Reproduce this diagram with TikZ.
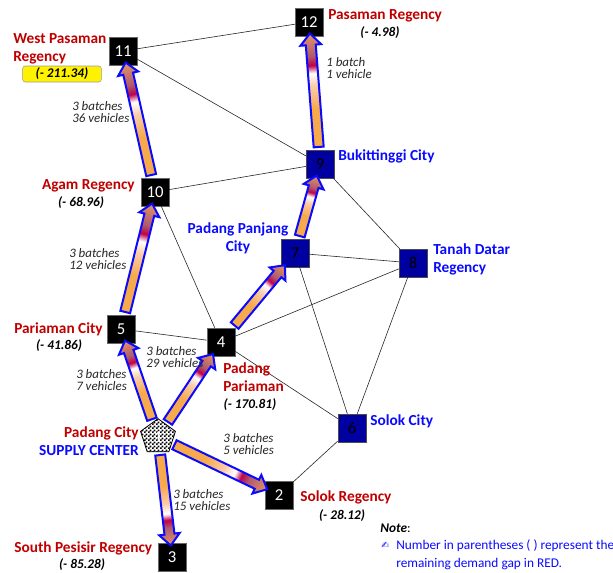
\documentclass[tikz,border=0pt]{standalone}
\usepackage{fontspec}
\setmainfont{Carlito}
\newfontfamily\symfont{DejaVu Sans}
\usetikzlibrary{shapes,arrows,calc,patterns}

\definecolor{regred}{RGB}{192,0,0}
\definecolor{cityblue}{RGB}{10,10,255}
\definecolor{boxnavy}{RGB}{0,0,160}
\definecolor{floworange}{RGB}{247,170,75}
\definecolor{flowpeach}{RGB}{250,205,170}
\definecolor{flowcrimson}{RGB}{192,0,70}
\definecolor{flowmauve}{RGB}{175,90,110}
\definecolor{flowtan}{RGB}{228,150,100}

\pgfdeclarehorizontalshading{flowshade}{100bp}{color(0bp)=(floworange); color(25bp)=(floworange); color(42bp)=(floworange); color(52bp)=(flowpeach); color(57.5bp)=(white); color(61bp)=(flowcrimson); color(65bp)=(flowmauve); color(75bp)=(flowtan); color(100bp)=(flowtan)}

\pgfdeclarepatternformonly{finechecker}{\pgfqpoint{0pt}{0pt}}{\pgfqpoint{3pt}{3pt}}{\pgfqpoint{3pt}{3pt}}{%
  \pgfpathrectangle{\pgfqpoint{0pt}{0pt}}{\pgfqpoint{1.5pt}{1.5pt}}%
  \pgfpathrectangle{\pgfqpoint{1.5pt}{1.5pt}}{\pgfqpoint{1.5pt}{1.5pt}}%
  \pgfusepath{fill}}

\newcommand\flow[2]{%
  \path let \p1=($(#2)-(#1)$), \n1={atan2(\y1,\x1)}, \n2={\n1+180},
            \p2=(#1.\n1), \p3=(#2.\n2), \n3={veclen(\x3-\x2,\y3-\y2)} in
    \pgfextra{\xdef\flowang{\n1}\xdef\flowlen{\n3}}
    coordinate (fm) at ($(\p2)!0.5!(\p3)$);
  \begin{scope}[transform canvas={shift={(fm)}, rotate=\flowang}]
    \node[flowarrow, minimum height=\flowlen] at (0,0) {};
  \end{scope}}

\begin{document}
\begin{tikzpicture}[x=0.75pt,y=-0.75pt]
\tikzstyle{blackbox}=[draw=black!60, fill=black, text=white, minimum size=21pt, inner sep=0pt, font=\fontsize{12.5}{14}\selectfont]
\tikzstyle{navybox}=[blackbox, draw=black!70, fill=boxnavy, text=black]
\tikzstyle{supply}=[regular polygon, regular polygon sides=5, draw=black, line width=0.6pt, minimum size=27.5pt, inner sep=0pt, preaction={fill=white}, pattern=finechecker, text=white, font=\fontsize{12.5}{14}\selectfont]
\tikzstyle{road}=[draw=black!85, line width=0.45pt, double=white, double distance=1.4pt]
\tikzstyle{flowarrow}=[single arrow, draw=cityblue, line width=1.5pt, shade, shading=flowshade, inner xsep=0pt, inner ysep=3pt, text height=0pt, text depth=0pt, single arrow head extend=4pt, single arrow tip angle=84]
\tikzstyle{region}=[text=regred, font=\fontsize{11.5}{13.5}\selectfont\bfseries, inner sep=0pt, align=left]
\tikzstyle{city}=[region, text=cityblue]
\tikzstyle{gap}=[font=\fontsize{10}{12}\selectfont\bfseries\itshape, inner sep=0pt]
\tikzstyle{trip}=[font=\fontsize{9.7}{8.8}\selectfont\itshape, inner sep=0pt, align=left, text=black!85]

\useasboundingbox (0,0) rectangle (613,572);

\node[supply] (n1) at (158,437) {1};
\node[blackbox] (n2) at (279,495) {2};
\node[blackbox] (n3) at (172,557) {3};
\node[blackbox] (n4) at (221,342) {4};
\node[blackbox] (n5) at (121,329) {5};
\node[navybox] (n6) at (352,428) {6};
\node[navybox] (n7) at (295,253) {7};
\node[navybox] (n8) at (413,263) {8};
\node[navybox] (n9) at (320,164) {9};
\node[blackbox] (n10) at (155,192) {10};
\node[blackbox] (n11) at (123,51) {11};
\node[blackbox] (n12) at (309,22) {12};

\path[road] (n11) edge (n12)
                  edge (n9)
            (n10) edge (n9)
                  edge (n4)
            (n5) edge (n4)
            (n4) edge (n8)
                 edge (n6)
            (n7) edge (n8)
                 edge (n6)
            (n9) edge (n8)
            (n8) edge (n6)
            (n6) edge (n2);

\flow{n1}{n5}
\flow{n1}{n4}
\flow{n1}{n2}
\flow{n1}{n3}
\flow{n5}{n10}
\flow{n10}{n11}
\flow{n4}{n7}
\flow{n7}{n9}
\flow{n9}{n12}

\node[region, anchor=west] (l11) at (13,49) {West Pasaman\\Regency};
\node[gap, fill=yellow, draw=black!40, rounded corners=2pt, minimum width=59pt, minimum height=12pt] (g11) at (62,74) {(- 211.34)};
\node[region, anchor=west] (l12) at (328,16) {Pasaman Regency};
\node[gap] (g12) at (380,33) {(- 4.98)};
\node[city, anchor=west] (l9) at (338,156) {Bukittinggi City};
\node[region, anchor=east] (l10) at (135,186) {Agam Regency};
\node[gap] (g10) at (81,203) {(- 68.96)};
\node[city, align=center] (l7) at (238,238) {Padang Panjang\\City};
\node[city, anchor=west] (l8) at (433,259) {Tanah Datar\\Regency};
\node[region, anchor=west] (l5) at (14,329) {Pariaman City};
\node[gap] (g5) at (59,346) {(- 41.86)};
\node[region, anchor=west] (l4) at (223,377) {Padang\\Pariaman};
\node[gap] (g4) at (250,405) {(- 170.81)};
\node[city, anchor=west] (l6) at (370,421) {Solok City};
\node[region, anchor=east, align=right] (l1) at (139,441) {Padang City\\\textcolor{cityblue}{SUPPLY CENTER}};
\node[region, anchor=west] (l2) at (300,497) {Solok Regency};
\node[gap] (g2) at (342,516) {(- 28.12)};
\node[region, anchor=west] (l3) at (14,548) {South Pesisir Regency};
\node[gap] (g3) at (82,565) {(- 85.28)};

\node[trip, anchor=west] (t11) at (72,112) {3 batches\\36 vehicles};
\node[trip, anchor=west] (t12) at (326,68) {1 batch\\1 vehicle};
\node[trip, anchor=west] (t10) at (69,259) {3 batches\\12 vehicles};
\node[trip, anchor=west] (t4) at (146,357) {3 batches\\29 vehicles};
\node[trip, anchor=west] (t5) at (76,380) {3 batches\\7 vehicles};
\node[trip, anchor=west] (t2) at (223,444) {3 batches\\5 vehicles};
\node[trip, anchor=west] (t3) at (173,500) {3 batches\\15 vehicles};

\node[anchor=west, inner sep=0pt, font=\fontsize{10}{12}\selectfont] (note) at (380,528) {\textbf{\textit{Note}}:};
\node[anchor=west, inner sep=0pt, text=cityblue, font=\fontsize{7}{8}\symfont] (bullet) at (381,545) {✍};
\node[anchor=north west, inner sep=0pt, text=cityblue, align=left, font=\fontsize{10}{14}\selectfont] (notetext) at (396,539) {Number in parentheses ( ) represent the\\remaining demand gap in RED.};
\end{tikzpicture}
\end{document}
